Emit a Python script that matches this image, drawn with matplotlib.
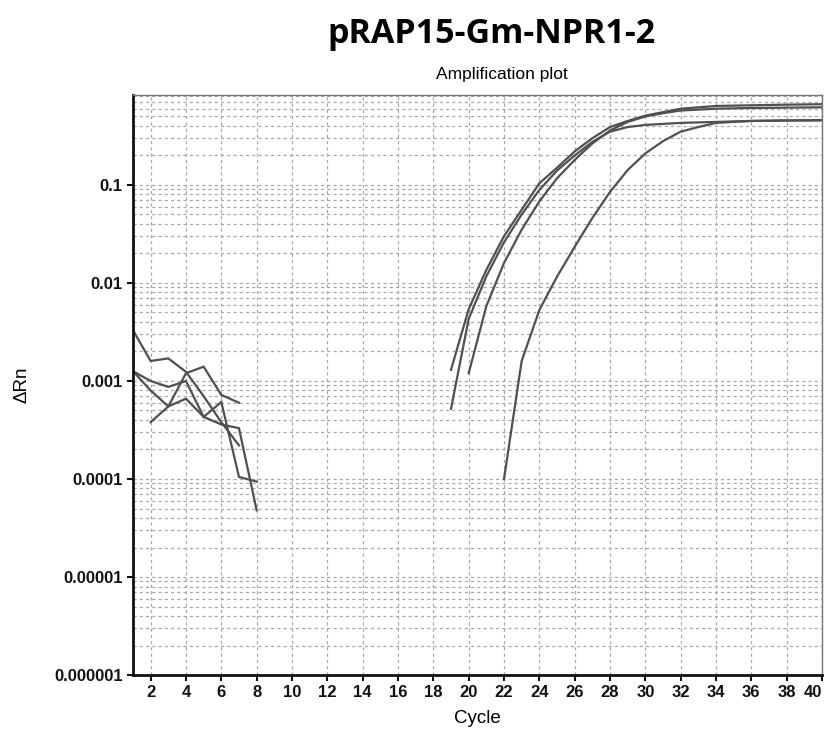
import matplotlib
matplotlib.use("Agg")
import matplotlib.pyplot as plt
from matplotlib.ticker import FixedLocator, LogLocator, NullFormatter

# ---------------- data ----------------
title = "pRAP15-Gm-NPR1-2"
subtitle = "Amplification plot"
x_label = "Cycle"
y_label = "ΔRn"

x_ticks = list(range(2, 41, 2))
y_ticks = [1e-6, 1e-5, 1e-4, 1e-3, 1e-2, 1e-1]
y_tick_labels = ["0.000001", "0.00001", "0.0001", "0.001", "0.01", "0.1"]

# early baseline noise traces
noise_a_x = [1, 2, 3, 4, 5, 6, 7]
noise_a_y = [0.0033, 0.0016, 0.0017, 0.00124, 0.0007, 0.00038, 0.00022]
noise_b_x = [1, 2, 3, 4, 5, 6, 7, 8]
noise_b_y = [0.00126, 0.0010, 0.00087, 0.0010, 0.00043, 0.00061, 0.000105, 0.000094]
noise_c_x = [2, 3, 4, 5, 6, 7]
noise_c_y = [0.00038, 0.00055, 0.0012, 0.0014, 0.00072, 0.0006]
noise_d_x = [1, 2, 3, 4, 5, 6, 7, 8]
noise_d_y = [0.00126, 0.0008, 0.00055, 0.00066, 0.00043, 0.00036, 0.00033, 0.000048]

# amplification curves
amp1_x = [19, 20, 21, 22, 23, 24, 25, 26, 27, 28, 29, 30, 32, 34, 36, 38, 40]
amp1_y = [0.0013, 0.0054, 0.0136, 0.030, 0.056, 0.104, 0.15, 0.22, 0.30, 0.39,
          0.45, 0.51, 0.60, 0.64, 0.65, 0.66, 0.667]
amp2_x = [19, 20, 21, 22, 23, 24, 25, 26, 27, 28, 29, 30, 32, 34, 36, 38, 40]
amp2_y = [0.00052, 0.0043, 0.0117, 0.026, 0.050, 0.089, 0.14, 0.20, 0.275, 0.35,
          0.39, 0.41, 0.43, 0.44, 0.45, 0.455, 0.46]
amp3_x = [20, 21, 22, 23, 24, 25, 26, 27, 28, 29, 30, 31, 32, 34, 36, 38, 40]
amp3_y = [0.0012, 0.0058, 0.016, 0.035, 0.068, 0.117, 0.18, 0.265, 0.36, 0.44,
          0.50, 0.54, 0.575, 0.60, 0.61, 0.615, 0.62]
amp4_x = [22, 23, 24, 25, 26, 27, 28, 29, 30, 31, 32, 33, 34, 35, 36, 38, 40]
amp4_y = [0.0001, 0.0016, 0.0053, 0.0116, 0.0234, 0.046, 0.085, 0.142, 0.21, 0.28,
          0.35, 0.39, 0.43, 0.44, 0.45, 0.455, 0.455]

series = [
    (noise_a_x, noise_a_y), (noise_b_x, noise_b_y),
    (noise_c_x, noise_c_y), (noise_d_x, noise_d_y),
    (amp1_x, amp1_y), (amp2_x, amp2_y), (amp3_x, amp3_y), (amp4_x, amp4_y),
]

# ---------------- figure ----------------
fig = plt.figure(figsize=(8.29, 7.33), dpi=100)
ax = fig.add_axes([0.1604, 0.0791, 0.8312, 0.7913])

for xs, ys in series:
    ax.plot(xs, ys, color="#505050", linewidth=1.6, solid_joinstyle="miter")

ax.set_yscale("log")
ax.set_xlim(1, 40)
ax.set_ylim(1e-6, 0.828)

ax.xaxis.set_major_locator(FixedLocator(x_ticks))
ax.set_xticklabels([str(t) for t in x_ticks])
ax.yaxis.set_major_locator(FixedLocator(y_ticks))
ax.set_yticklabels(y_tick_labels)
ax.yaxis.set_minor_locator(LogLocator(base=10, subs=range(2, 10), numticks=20))
ax.yaxis.set_minor_formatter(NullFormatter())

grid_kw = dict(color="#a8a8a8", linestyle=(0, (2.5, 2.5)), linewidth=0.9)
ax.grid(True, which="major", axis="both", **grid_kw)
ax.grid(True, which="minor", axis="y", **grid_kw)
ax.set_axisbelow(True)

ax.tick_params(axis="both", which="major", direction="out", length=4, width=1.5,
               labelsize=12, colors="#111111")
ax.tick_params(axis="y", which="minor", length=0)
for lab in ax.get_xticklabels() + ax.get_yticklabels():
    lab.set_fontweight("bold")
    lab.set_family("Liberation Sans")
ax.get_xticklabels()[-1].set_ha("right")

for side in ("left", "bottom"):
    ax.spines[side].set_linewidth(2.0)
    ax.spines[side].set_color("#111111")
for side in ("top", "right"):
    ax.spines[side].set_linewidth(1.0)
    ax.spines[side].set_color("#777777")

ax.set_xlabel(x_label, fontsize=13.5, family="Liberation Sans", labelpad=7)
ax.set_ylabel(y_label, fontsize=13.5, family="Liberation Sans", labelpad=17)

fig.text(0.593, 0.953, title, ha="center", va="center", fontsize=24.5,
         fontweight="bold", family="Open Sans")
fig.text(0.606, 0.898, subtitle, ha="center", va="center", fontsize=12.5,
         family="Liberation Sans")

fig.savefig("out.png", dpi=100)
